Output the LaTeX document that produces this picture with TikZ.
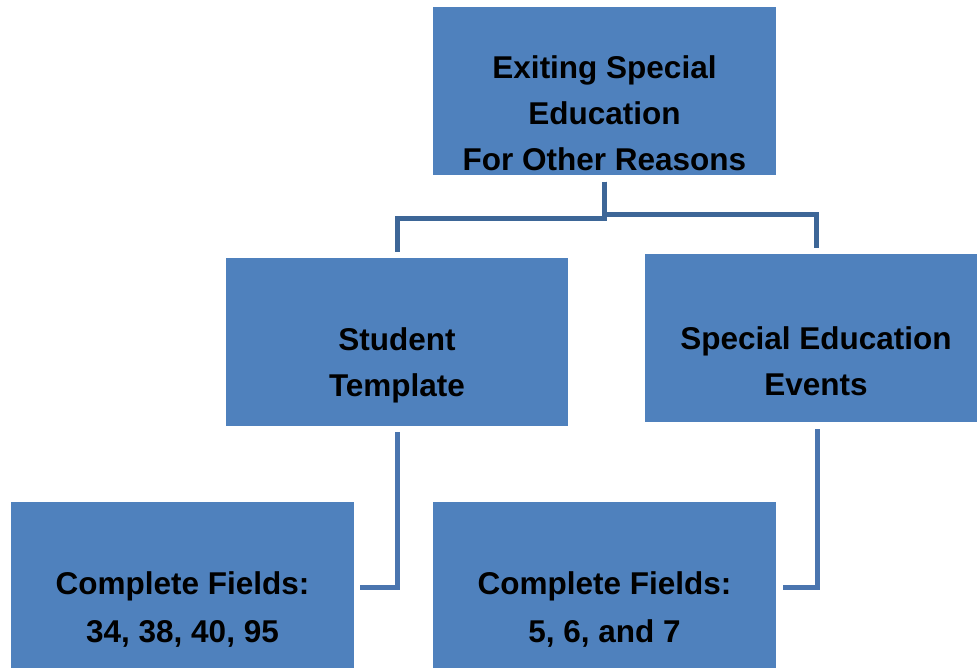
\documentclass[tikz,border=0pt]{standalone}
\usepackage{fontspec}
\setmainfont{Liberation Sans}
\usetikzlibrary{calc}

\definecolor{boxblue}{HTML}{4F81BD}
\definecolor{linkdark}{HTML}{3D6697}
\definecolor{linkblue}{HTML}{4A75AF}

\newcommand\boxtextstyle{\fontsize{31.5}{46}\selectfont\bfseries}
\newcommand\fieldtextstyle{\fontsize{31.5}{48}\selectfont\bfseries}
\newcommand\textdrop{23}

\tikzset{
  blockbox/.style={fill=boxblue, draw=none, minimum width=#1, minimum height=168pt, inner sep=0pt},
  blockbox/.default=343pt,
  blocktext/.style={align=center, font=\boxtextstyle, inner sep=0pt},
  fieldtext/.style={align=center, font=\fieldtextstyle, inner sep=0pt}
}
\tikzset{
  link/.style={line width=5pt, draw=linkdark},
  lowlink/.style={line width=5pt, draw=linkblue}
}

\begin{document}
\begin{tikzpicture}[x=1pt, y=-1pt]
    \clip (0,0) rectangle (977,667);
    % boxes
    \node[blockbox] (exit) at (604.5,90.5) {};
    \node[blockbox=342pt] (tmpl) at (397,342) {};
    \node[blockbox=332pt] (events) at (811,338) {};
    \node[blockbox, minimum height=210pt] (fieldsA) at (182.5,607) {};
    \node[blockbox, minimum height=210pt] (fieldsB) at (604.5,607) {};
    % texts
    \node[blocktext] (exitlabel) at ($(exit.center)+(0,\textdrop)$) {Exiting Special\\Education\\For Other Reasons};
    \node[blocktext] (tmpllabel) at ($(tmpl.center)+(0,\textdrop)$) {Student\\Template};
    \node[blocktext] (eventslabel) at ($(events.center)+(5,\textdrop)$) {Special Education\\Events};
    \node[fieldtext] (fieldsAlabel) at (182.5,610) {Complete Fields:\\34, 38, 40, 95};
    \node[fieldtext] (fieldsBlabel) at (604.5,610) {Complete Fields:\\5, 6, and 7};
    % connectors
    \coordinate (split) at ($(exit.south)+(0,7)$);
    \coordinate (tmpltop) at ($(tmpl.north)+(0,-6)$);
    \coordinate (eventstop) at ($(events.north)+(5,-6)$);
    \draw[link] (split) -- ++(0,37) -| (tmpltop);
    \draw[link] (split) -- ++(0,33) -| (eventstop);
    \coordinate (tmplfoot) at ($(tmpl.south)+(0,6)$);
    \coordinate (eventsfoot) at ($(events.south)+(6,7)$);
    \draw[lowlink] (tmplfoot) |- ($(fieldsA.east)+(6,-20)$);
    \draw[lowlink] (eventsfoot) |- ($(fieldsB.east)+(7,-20)$);
\end{tikzpicture}
\end{document}
